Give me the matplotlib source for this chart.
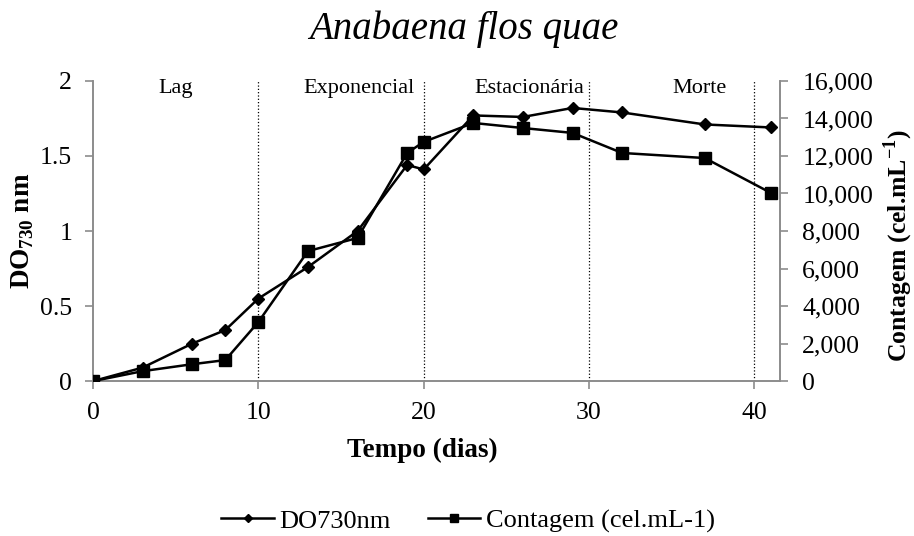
import matplotlib.pyplot as plt
from matplotlib.ticker import FuncFormatter

plt.rcParams['font.family'] = ['Liberation Serif', 'DejaVu Serif']
plt.rcParams['mathtext.fontset'] = 'custom'
plt.rcParams['mathtext.rm'] = 'Liberation Serif'
plt.rcParams['mathtext.bf'] = 'Liberation Serif:bold'

# dados
dias = [0, 3, 6, 8, 10, 13, 16, 19, 20, 23, 26, 29, 32, 37, 41]
do730 = [0, 0.09, 0.25, 0.34, 0.55, 0.76, 1.0, 1.44, 1.41, 1.77, 1.76, 1.82, 1.79, 1.71, 1.69]
contagem = [0, 530, 900, 1120, 3150, 6930, 7630, 12160, 12750, 13760, 13490, 13230, 12160, 11890, 10030]

fases = ['Lag', 'Exponencial', 'Estacionária', 'Morte']
fases_x = [5, 16.1, 26.4, 36.7]
divisoes = [10, 20, 30, 40]

fig = plt.figure(figsize=(9.14, 5.36), dpi=100)
ax = fig.add_axes([0.1018, 0.289, 0.7516, 0.560])
ax2 = ax.twinx()

for d in divisoes:
    ax.axvline(d, color='black', linestyle=':', linewidth=0.9, zorder=1)

l1, = ax.plot(dias, do730, color='black', linewidth=1.8, marker='D', markersize=6.5, zorder=3)
l2, = ax2.plot(dias, contagem, color='black', linewidth=1.8, marker='s', markersize=9, zorder=3)

ax.set_xlim(0, 41.55)
ax.set_ylim(0, 2)
ax2.set_ylim(0, 16000)
ax.set_xticks([0, 10, 20, 30, 40])
ax.set_yticks([0, 0.5, 1, 1.5, 2])
ax.yaxis.set_major_formatter(FuncFormatter(lambda v, p: '{:g}'.format(v)))
ax2.set_yticks(range(0, 16001, 2000))
ax2.yaxis.set_major_formatter(FuncFormatter(lambda v, p: '{:,.0f}'.format(v)))

for a in (ax, ax2):
    a.spines['top'].set_visible(False)
    for s in ('left', 'bottom', 'right'):
        a.spines[s].set_color('#8c8c8c')
        a.spines[s].set_linewidth(1.2)
    a.tick_params(direction='out', length=6, color='#8c8c8c', labelsize=18.5, width=1.2)
ax.tick_params(axis='x', pad=9)
ax.tick_params(axis='y', pad=9)
ax2.tick_params(axis='y', pad=10)

for nome, xf in zip(fases, fases_x):
    ax.text(xf, 1.95, nome, ha='center', va='center', fontsize=16)

ax.set_xlabel('Tempo (dias)', fontsize=19.5, fontweight='bold')
ax.xaxis.set_label_coords(0.48, -0.19)
ax.set_ylabel(r'DO$_{\mathbf{730}}$ nm', fontsize=19.5, fontweight='bold', labelpad=3)
ax2.set_ylabel(r'Contagem (cel.mL$^{\mathbf{-1}}$)', fontsize=18.5, fontweight='bold')
ax2.yaxis.set_label_coords(1.148, 0.45)
fig.text(0.508, 0.927, 'Anabaena flos quae', ha='center', va='baseline', fontsize=28, style='italic')

fig.legend([l1, l2], ['DO730nm', 'Contagem (cel.mL-1)'], loc='center', bbox_to_anchor=(0.512, 0.028),
           ncol=2, frameon=False, fontsize=19, handlelength=2.0, columnspacing=1.4, handletextpad=0.2,
           markerscale=0.6)

fig.savefig('out.png', dpi=100)
